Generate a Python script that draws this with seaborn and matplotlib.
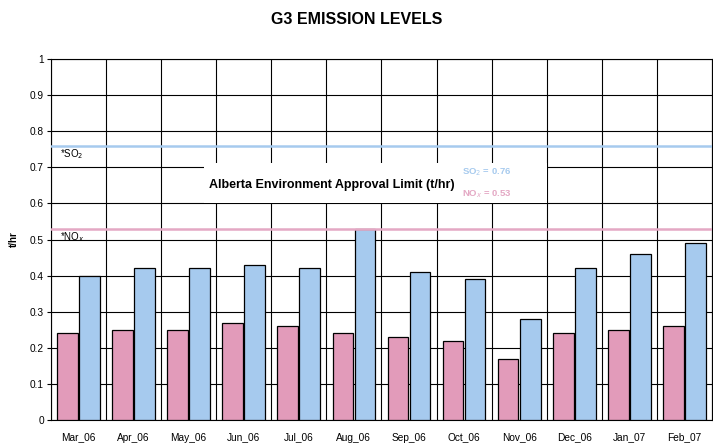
import matplotlib
matplotlib.use("Agg")
import matplotlib.pyplot as plt
import seaborn as sns
import pandas as pd
from matplotlib.patches import Rectangle

months = ["Mar_06", "Apr_06", "May_06", "Jun_06", "Jul_06", "Aug_06",
          "Sep_06", "Oct_06", "Nov_06", "Dec_06", "Jan_07", "Feb_07"]
nox = [0.24, 0.25, 0.25, 0.27, 0.26, 0.24, 0.23, 0.22, 0.17, 0.24, 0.25, 0.26]
so2 = [0.40, 0.42, 0.42, 0.43, 0.42, 0.53, 0.41, 0.39, 0.28, 0.42, 0.46, 0.49]
so2_limit = 0.76
nox_limit = 0.53
yticks = [0, 0.1, 0.2, 0.3, 0.4, 0.5, 0.6, 0.7, 0.8, 0.9, 1]

pink = "#E29BBA"
blue = "#A6CAEE"
line_pink = "#E4A8C4"

df = pd.DataFrame({
    "month": months * 2,
    "value": nox + so2,
    "gas": ["NOx"] * len(months) + ["SO2"] * len(months),
})

sns.set_style("white")
plt.rcParams["font.family"] = ["Liberation Sans", "DejaVu Sans"]
plt.rcParams["text.color"] = "black"
plt.rcParams["xtick.color"] = "black"
plt.rcParams["ytick.color"] = "black"
plt.rcParams["axes.labelcolor"] = "black"

fig = plt.figure(figsize=(7.13, 4.44), dpi=100)
ax = fig.add_axes([0.0715, 0.054, 0.927, 0.813])

sns.barplot(data=df, x="month", y="value", hue="gas", order=months,
            hue_order=["NOx", "SO2"], palette=[pink, blue], width=0.8,
            gap=0.06, edgecolor="black", linewidth=0.9, saturation=1,
            legend=False, ax=ax, zorder=3)

ax.set_xlim(-0.5, len(months) - 0.5)
ax.set_ylim(0, 1)
ax.set_yticks(yticks)
ax.set_yticklabels([f"{t:g}" for t in yticks])
ax.set_xticks(range(len(months)))
ax.set_xticklabels(months)
ax.set_xticks([i - 0.5 for i in range(len(months) + 1)], minor=True)
ax.tick_params(axis="x", which="major", length=0, labelsize=7.3, pad=9)
ax.tick_params(axis="x", which="minor", length=3, width=0.8, direction="out")
ax.tick_params(axis="y", length=3, width=0.8, direction="out", left=True,
               labelsize=7.3, pad=2)

ax.set_axisbelow(True)
ax.grid(axis="y", which="major", color="black", linewidth=0.8)
ax.grid(axis="x", which="minor", color="black", linewidth=0.8)
ax.grid(axis="x", which="major", visible=False)
for s in ax.spines.values():
    s.set_color("black")
    s.set_linewidth(0.8)

# approval limit lines
ax.axhline(so2_limit, color=blue, linewidth=1.8, zorder=4)
ax.axhline(nox_limit, color=line_pink, linewidth=1.8, zorder=4)
ax.text(-0.33, so2_limit - 0.005, "*SO$_2$", fontsize=7, va="top", ha="left")
ax.text(-0.33, nox_limit - 0.005, "*NO$_x$", fontsize=7, va="top", ha="left")

# legend-like annotation box
ax.add_patch(Rectangle((2.28, 0.601), 6.22, 0.11, facecolor="white",
                       edgecolor="none", zorder=2.5))
ax.text(4.6, 0.652, "Alberta Environment Approval Limit (t/hr)", fontsize=9,
        fontweight="bold", ha="center", va="center", zorder=5)
ax.text(6.96, 0.686, f"SO$_2$ = {so2_limit}", fontsize=6.8, fontweight="bold",
        color=blue, ha="left", va="center", zorder=5)
ax.text(6.96, 0.626, f"NO$_x$ = {nox_limit}", fontsize=6.8, fontweight="bold",
        color=line_pink, ha="left", va="center", zorder=5)

ax.set_xlabel("")
ax.set_ylabel("t/hr", fontsize=7, fontweight="bold", labelpad=8)
fig.suptitle("G3 EMISSION LEVELS", x=0.5, y=0.972, fontsize=11.5,
             fontweight="bold")

fig.savefig("out.png", dpi=100)
